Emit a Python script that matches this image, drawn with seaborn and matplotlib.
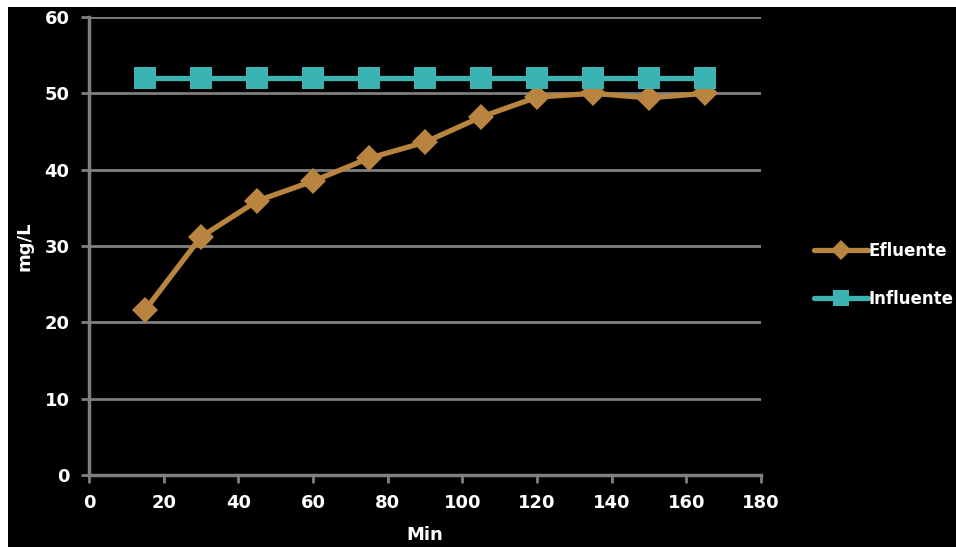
import matplotlib
matplotlib.use("Agg")
import matplotlib.pyplot as plt
import seaborn as sns
import pandas as pd
from matplotlib.patches import Rectangle

# Sampling times (min) and concentrations (mg/L)
minutes = [15, 30, 45, 60, 75, 90, 105, 120, 135, 150, 165]
efluente = [21.6, 31.2, 35.9, 38.5, 41.5, 43.6, 46.9, 49.5, 50.0, 49.4, 50.0]
influente = [52, 52, 52, 52, 52, 52, 52, 52, 52, 52, 52]
series_names = ["Efluente", "Influente"]
x_ticks = [0, 20, 40, 60, 80, 100, 120, 140, 160, 180]
y_ticks = [0, 10, 20, 30, 40, 50, 60]

df = pd.DataFrame({
    "Min": minutes * 2,
    "mg/L": efluente + influente,
    "serie": [series_names[0]] * len(minutes) + [series_names[1]] * len(minutes),
})

sns.set_theme(style="dark")
plt.rcParams["font.family"] = ["DejaVu Sans"]

grid_col = "#7f7f7f"
colors = {"Efluente": "#B8843F", "Influente": "#3CB3B3"}
markers = {"Efluente": "D", "Influente": "s"}
msizes = {"Efluente": 13, "Influente": 16}

fig = plt.figure(figsize=(9.56, 5.47), dpi=100, facecolor="black")
ax = fig.add_axes([0.0931, 0.1316, 0.7029, 0.8373])
ax.set_facecolor("black")

for name in series_names:
    sns.lineplot(data=df[df["serie"] == name], x="Min", y="mg/L", ax=ax,
                 color=colors[name], linewidth=3.8, marker=markers[name],
                 markersize=msizes[name], markeredgewidth=0, label=name,
                 zorder=3 if name == "Efluente" else 4)

ax.set_xlim(0, 180)
ax.set_ylim(0, 60)
ax.set_xticks(x_ticks)
ax.set_yticks(y_ticks)
ax.grid(False)
for y in y_ticks[1:]:
    ax.axhline(y, color=grid_col, linewidth=2, zorder=1)

for side in ["top", "right"]:
    ax.spines[side].set_visible(False)
for side in ["left", "bottom"]:
    ax.spines[side].set_visible(True)
    ax.spines[side].set_color(grid_col)
    ax.spines[side].set_linewidth(2.5)

ax.tick_params(axis="both", colors=grid_col, width=2, length=6, direction="out",
               labelcolor="white", labelsize=13)
ax.tick_params(axis="both", bottom=True, left=True)
for lbl in ax.get_xticklabels() + ax.get_yticklabels():
    lbl.set_fontweight("bold")
ax.tick_params(axis="x", pad=8)
ax.tick_params(axis="y", pad=8)

ax.set_xlabel("Min", color="white", fontsize=13, fontweight="bold", labelpad=10)
ax.set_ylabel("mg/L", color="white", fontsize=13, fontweight="bold", labelpad=8)

ax.get_legend().remove()
handles, labels = ax.get_legend_handles_labels()
leg = fig.legend(handles, labels, loc="center left", bbox_to_anchor=(0.845, 0.497),
                 frameon=False, fontsize=12, handlelength=3.2, handletextpad=0.05,
                 labelspacing=1.8, borderaxespad=0, markerscale=0.75)
for t in leg.get_texts():
    t.set_color("white")
    t.set_fontweight("bold")

# white strips along the top and left edges
fig.patches.append(Rectangle((0, 1 - 7 / 547), 1, 7 / 547, transform=fig.transFigure,
                             facecolor="white", edgecolor="none", zorder=10))
fig.patches.append(Rectangle((0, 0), 8 / 956, 1, transform=fig.transFigure,
                             facecolor="white", edgecolor="none", zorder=10))

fig.savefig("out.png", dpi=100, facecolor="black")
